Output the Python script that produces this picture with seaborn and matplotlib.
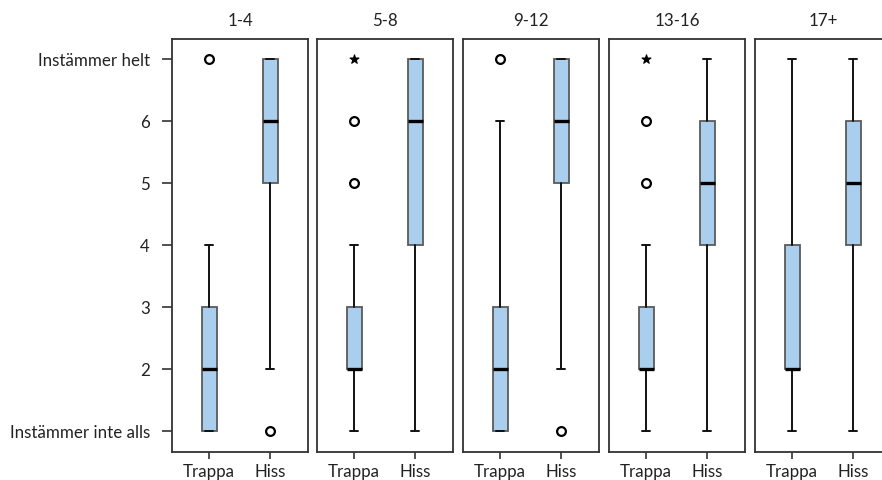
import matplotlib
matplotlib.use("Agg")
import matplotlib.pyplot as plt
import seaborn as sns
import pandas as pd

# Age groups (panels) and the two conditions compared in each
groups = ["1-4", "5-8", "9-12", "13-16", "17+"]
conditions = ["Trappa", "Hiss"]

# Box summaries per group, [Trappa, Hiss]
q1 = [[1, 5], [2, 4], [1, 5], [2, 4], [2, 4]]
median = [[2, 6], [2, 6], [2, 6], [2, 5], [2, 5]]
q3 = [[3, 7], [3, 7], [3, 7], [3, 6], [4, 6]]
whisker_low = [[1, 2], [1, 1], [1, 2], [1, 1], [1, 1]]
whisker_high = [[4, 7], [4, 7], [6, 7], [4, 7], [7, 7]]

# Individual outliers (circle) and extreme values (star)
out_group = ["1-4", "1-4", "5-8", "5-8", "5-8", "9-12", "9-12", "13-16", "13-16", "13-16"]
out_cond = ["Trappa", "Hiss", "Trappa", "Trappa", "Trappa", "Trappa", "Hiss", "Trappa", "Trappa", "Trappa"]
out_value = [7, 1, 5, 6, 7, 7, 1, 5, 6, 7]
out_kind = ["outlier", "outlier", "outlier", "outlier", "extreme",
            "outlier", "outlier", "outlier", "outlier", "extreme"]

y_ticks = [1, 2, 3, 4, 5, 6, 7]
y_labels = ["Instämmer inte alls", "2", "3", "4", "5", "6", "Instämmer helt"]

sns.set_theme(style="white")
plt.rcParams["font.family"] = ["Lato", "DejaVu Sans"]
text_color = "#222222"
font_size = 12.2

outliers = pd.DataFrame({"group": out_group, "cond": out_cond,
                         "value": out_value, "kind": out_kind})
outliers["x"] = outliers["cond"].map({c: i for i, c in enumerate(conditions)})

fig = plt.figure(figsize=(8.82, 4.81), dpi=100)
W, H = 882, 481
lefts = [172, 317, 463, 609, 755]
panel_w = 136
top_px, bottom_px = 40, 453

box_fill = "#aacfee"
for gi, (g, left) in enumerate(zip(groups, lefts)):
    ax = fig.add_axes([left / W, 1 - bottom_px / H, panel_w / W, (bottom_px - top_px) / H])
    stats = []
    for ci, c in enumerate(conditions):
        stats.append(dict(label=c, q1=q1[gi][ci], med=median[gi][ci], q3=q3[gi][ci],
                          whislo=whisker_low[gi][ci], whishi=whisker_high[gi][ci], fliers=[]))
    ax.bxp(stats, positions=[0, 1], widths=0.25, capwidths=0.13, showfliers=False,
           patch_artist=True,
           boxprops=dict(facecolor=box_fill, edgecolor="#5a5a5a", linewidth=1.3),
           medianprops=dict(color="black", linewidth=2.4, solid_capstyle="butt"),
           whiskerprops=dict(color="#111111", linewidth=1.4),
           capprops=dict(color="#111111", linewidth=1.4))

    sub = outliers[outliers["group"] == g]
    circles = sub[sub["kind"] == "outlier"]
    stars = sub[sub["kind"] == "extreme"]
    if len(circles):
        sns.scatterplot(data=circles, x="x", y="value", marker="o", color="white",
                        edgecolor="black", linewidth=1.6, s=40,
                        legend=False, ax=ax, zorder=5)
    if len(stars):
        sns.scatterplot(data=stars, x="x", y="value", marker="*", color="black",
                        edgecolor="black", linewidth=0.8, s=45,
                        legend=False, ax=ax, zorder=5)

    ax.set_xlim(-0.61, 1.62)
    ax.set_ylim(1 - 21 / 62, 7 + 20 / 62)
    ax.set_xticks([0, 1])
    ax.set_xticklabels(conditions, fontsize=font_size, color=text_color)
    ax.set_xlabel("")
    ax.set_ylabel("")
    ax.tick_params(axis="x", bottom=True, length=5, width=1.2, color="#333333", pad=3)
    if gi == 0:
        ax.set_yticks(y_ticks)
        ax.set_yticklabels(y_labels, fontsize=font_size, color=text_color)
        ax.tick_params(axis="y", left=True, length=7, width=1.2, color="#333333", pad=9)
    else:
        ax.set_yticks([])
    for s in ax.spines.values():
        s.set_visible(True)
        s.set_color("#333333")
        s.set_linewidth(1.3)
    ax.set_title(g, fontsize=font_size, color=text_color, pad=10)

fig.savefig("out.png", dpi=100)
